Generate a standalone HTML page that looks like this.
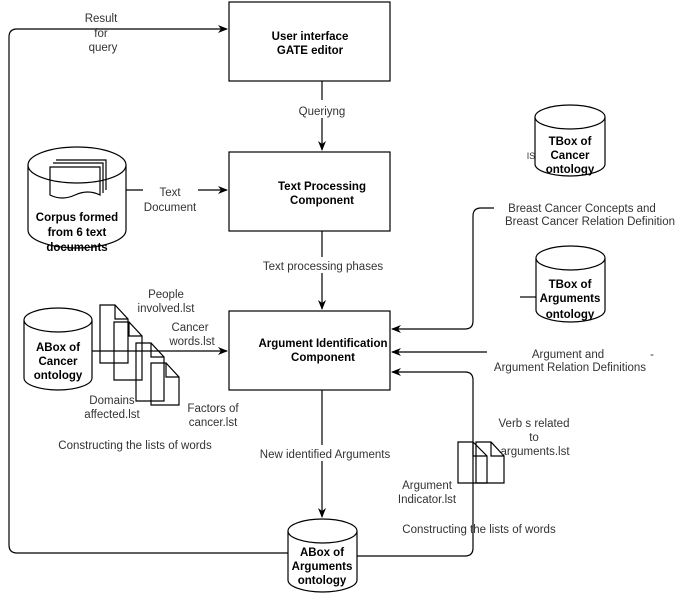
<!DOCTYPE html><html><head><style>body{margin:0;background:#fff}svg text{font-family:"Liberation Sans",Arial,sans-serif;font-size:11.5px;fill:#333}</style></head><body>
<svg width="682" height="597" viewBox="0 0 682 597" xmlns="http://www.w3.org/2000/svg">
<defs><marker id="a" markerWidth="10" markerHeight="8" refX="9" refY="4" orient="auto" markerUnits="userSpaceOnUse"><path d="M0,0 L10,4 L0,8 L3,4 z" fill="#000"/></marker></defs>
<g fill="none" stroke="#000" stroke-width="1.2">
<rect x="229" y="2" width="161" height="79" fill="#fff"/>
<rect x="229" y="152" width="161" height="79" fill="#fff"/>
<rect x="229" y="311" width="161" height="79" fill="#fff"/>
<path d="M322,81 V150" marker-end="url(#a)"/>
<path d="M322,231 V309" marker-end="url(#a)"/>
<path d="M322,390 V517" marker-end="url(#a)"/>
<path d="M288,553 H17 Q9,553 9,545 V37 Q9,29 17,29 H227" marker-end="url(#a)"/>
<path d="M357,556 H465 Q473,556 473,548 V380 Q473,372 465,372 H392" marker-end="url(#a)"/>
<path d="M494,208 H481 Q473,208 473,216 V321 Q473,329 465,329 H392" marker-end="url(#a)"/>
<path d="M487,352 H392" marker-end="url(#a)"/>
<path d="M92,351 H227" marker-end="url(#a)"/>
<path d="M126,190 H143"/><path d="M198,190 H227" marker-end="url(#a)"/>
<path d="M520,297 H536"/>
<path d="M28,165 V230 A49,18 0 0 0 126,230 V165" fill="#fff"/><ellipse cx="77" cy="165" rx="49" ry="18" fill="#fff"/>
<path d="M50,167 h50 v28 q-12,-6 -25,0 q-13,6 -25,0 z M53,163 h50 v30 M56,160 h50 v30"/>
<path d="M24,320 V378 A34,12 0 0 0 92,378 V320" fill="#fff"/><ellipse cx="58" cy="320" rx="34" ry="12" fill="#fff"/>
<path d="M535,117 V164 A35,12 0 0 0 605,164 V117" fill="#fff"/><ellipse cx="570" cy="117" rx="35" ry="12" fill="#fff"/>
<path d="M536,258 V310 A34.5,12 0 0 0 605,310 V258" fill="#fff"/><ellipse cx="570.5" cy="258" rx="34.5" ry="12" fill="#fff"/>
<path d="M288,531 V580 A34.5,12 0 0 0 357,580 V531" fill="#fff"/><ellipse cx="322.5" cy="531" rx="34.5" ry="12" fill="#fff"/>
<path d="M100,305 h15 l13,14 v44 h-28 z M115,305 v14 h13"/>
<path d="M114,322 h15 l13,14 v44 h-28 z M129,322 v14 h13"/>
<path d="M136,343 h15 l13,14 v44 h-28 z M151,343 v14 h13"/>
<path d="M151,363 h15 l13,14 v28 h-28 z M166,363 v14 h13"/>
<path d="M458,442 h15 l14,14 v27 h-29 z M473,442 v14 h14"/>
<path d="M476,442 h15 l13,14 v27 h-28 z M491,442 v14 h13"/>
</g>
<g text-anchor="middle">
<text x="310" y="40" style="font-weight:bold;fill:#000">User interface</text><text x="310" y="54" style="font-weight:bold;fill:#000">GATE editor</text>
<text x="322" y="190" style="font-weight:bold;fill:#000">Text Processing</text><text x="322" y="204" style="font-weight:bold;fill:#000">Component</text>
<text x="323" y="347" style="font-weight:bold;fill:#000">Argument  Identification</text><text x="323" y="361" style="font-weight:bold;fill:#000">Component</text>
<rect x="290" y="100" width="65" height="18" fill="#fff"/><text x="322" y="115">Queriyng</text>
<rect x="262" y="257" width="122" height="16" fill="#fff"/><text x="323" y="270">Text processing phases</text>
<rect x="257" y="445" width="136" height="16" fill="#fff"/><text x="325" y="458">New identified Arguments</text>
<text x="101" y="22">Result</text><text x="101" y="37">for</text><text x="103" y="51">query</text>
<text x="170" y="196">Text</text><text x="170" y="211">Document</text>
<text x="77" y="221" style="font-weight:bold;fill:#000">Corpus formed</text><text x="77" y="236" style="font-weight:bold;fill:#000">from  6 text</text><text x="77" y="251" style="font-weight:bold;fill:#000">documents</text>
<text x="58" y="351" style="font-weight:bold;fill:#000">ABox of</text><text x="58" y="365" style="font-weight:bold;fill:#000">Cancer</text><text x="58" y="379" style="font-weight:bold;fill:#000">ontology</text>
<text x="570" y="145" style="font-weight:bold;fill:#000">TBox of</text><text x="570" y="159" style="font-weight:bold;fill:#000">Cancer</text><text x="570" y="173" style="font-weight:bold;fill:#000">ontology</text>
<text x="531" y="159" style="font-size:9px">IS</text>
<text x="570" y="288" style="font-weight:bold;fill:#000">TBox of</text><text x="570" y="302" style="font-weight:bold;fill:#000">Arguments</text><text x="570" y="318" style="font-weight:bold;fill:#000">ontology</text>
<text x="322" y="556" style="font-weight:bold;fill:#000">ABox of</text><text x="322" y="570" style="font-weight:bold;fill:#000">Arguments</text><text x="322" y="584" style="font-weight:bold;fill:#000">ontology</text>
<text x="166" y="298">People</text><text x="166" y="312">involved.lst</text>
<text x="190" y="331">Cancer</text><text x="192" y="345">words.lst</text>
<text x="112" y="404">Domains</text><text x="112" y="418">affected.lst</text>
<text x="213" y="412">Factors of</text><text x="213" y="426">cancer.lst</text>
<text x="135" y="449">Constructing the lists of words</text>
<text x="582" y="212">Breast Cancer Concepts and</text><text x="590" y="225">Breast Cancer Relation Definition</text>
<text x="568" y="358">Argument and</text><text x="570" y="371">Argument Relation Definitions</text>
<text x="652" y="358">-</text>
<text x="534" y="427">Verb s related</text><text x="534" y="441">to</text><text x="535" y="455">arguments.lst</text>
<text x="427" y="489">Argument</text><text x="427" y="503">Indicator.lst</text>
<text x="479" y="533">Constructing the lists of words</text>
</g>
</svg></body></html>
